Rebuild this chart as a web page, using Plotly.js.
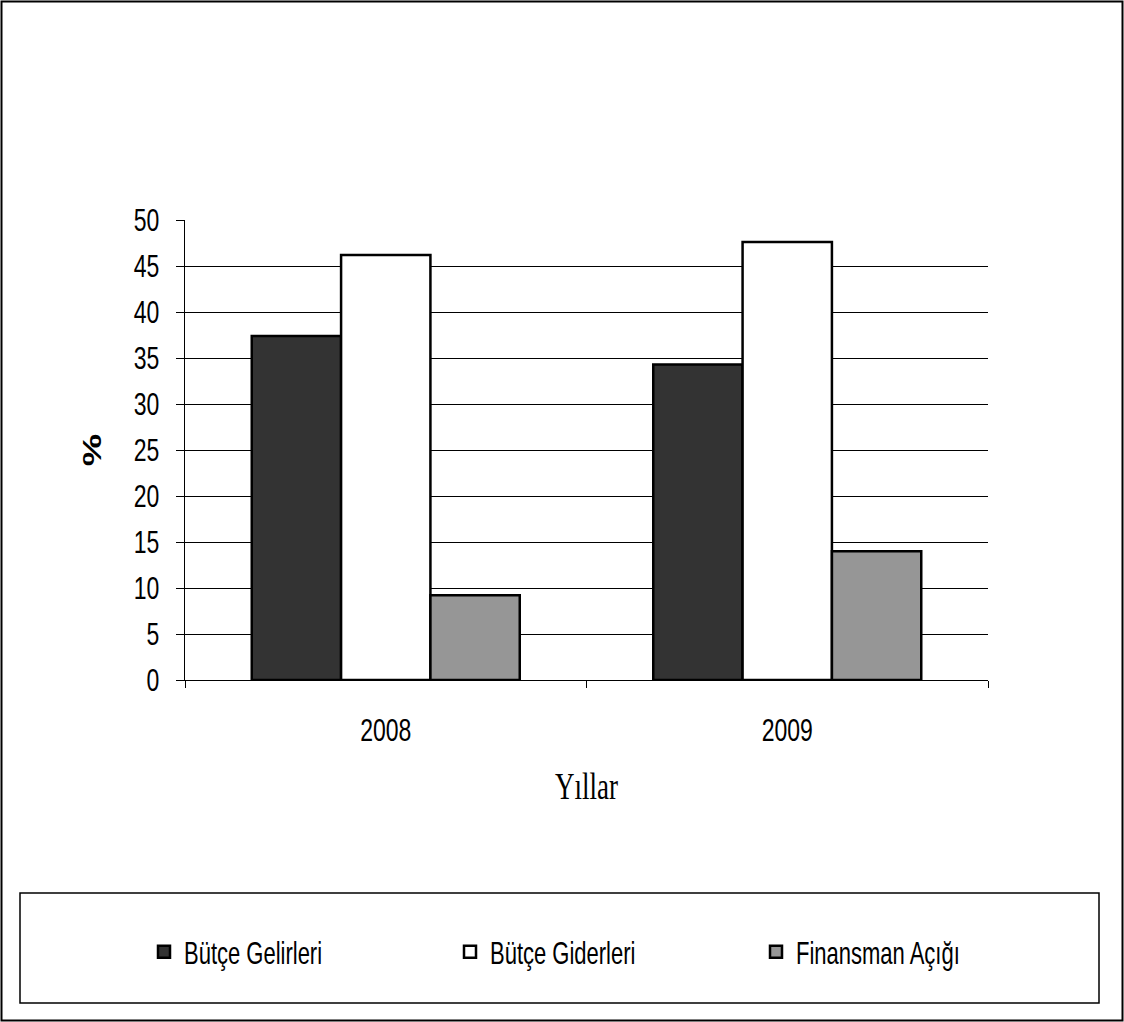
<!DOCTYPE html>
<html><head><meta charset="utf-8">
<script src="https://cdn.plot.ly/plotly-3.0.1.min.js"></script>
<style>html,body{margin:0;padding:0;background:#fff}#c{width:1124px;height:1022px}</style>
</head><body><div id="c"></div>
<script>
const years = ['2008', '2009'];
const gelirler = [37.4, 34.3];
const giderler = [46.2, 47.6];
const acik = [9.2, 14.0];
const seriesNames = ['Bütçe Gelirleri', 'Bütçe Giderleri', 'Finansman Açığı'];
const seriesColors = ['#333333', '#ffffff', '#969696'];
const yTicks = [0, 5, 10, 15, 20, 25, 30, 35, 40, 45, 50];

const SANS = 'Liberation Sans, Arial, sans-serif';
const SERIF = 'Liberation Serif, Times New Roman, serif';

const values = [gelirler, giderler, acik];
const traces = values.map((v, i) => ({
  type: 'bar', x: years, y: v, name: seriesNames[i],
  marker: {color: seriesColors[i], line: {color: '#000', width: 2.5}},
  hoverinfo: 'y'
}));

const W = 1124, H = 1022;
const L = 185, R = 988, T = 220, B = 680;
const pw = R - L, ph = B - T;
const px = x => (x - L) / pw, py = y => (B - y) / ph;

const layout = {
  width: W, height: H,
  margin: {l: L, r: W - R, t: T, b: H - B},
  paper_bgcolor: '#fff', plot_bgcolor: '#fff',
  barmode: 'group', bargap: 0.3325, bargroupgap: 0,
  font: {family: SANS, color: '#000', size: 22},
  showlegend: true,
  legend: {orientation: 'h', xref: 'paper', yref: 'paper',
    x: px(144), xanchor: 'left', y: py(952), yanchor: 'middle',
    entrywidth: 261, entrywidthmode: 'pixels', font: {size: 22, family: SANS},
    bgcolor: 'rgba(0,0,0,0)', traceorder: 'normal', borderwidth: 0},
  xaxis: {type: 'category', showline: true, linecolor: '#000', linewidth: 1,
    ticks: 'outside', tickson: 'boundaries', ticklen: 7, tickcolor: '#000',
    ticklabelstandoff: 29, tickfont: {size: 23, family: SANS},
    title: {text: 'Yıllar', font: {family: SERIF, size: 27}, standoff: 34}},
  yaxis: {range: [0, 50], tickvals: yTicks, showline: true, linecolor: '#000', linewidth: 1,
    ticks: 'outside', ticklen: 8, tickcolor: '#000', showgrid: true, gridcolor: '#000', gridwidth: 1,
    zeroline: false, tickfont: {size: 23, family: SANS}, ticklabelstandoff: 12,
    title: {text: '<b>%</b>', font: {size: 26, family: SANS}, standoff: 24}},
  shapes: [
    {type: 'rect', xref: 'paper', yref: 'paper', x0: px(20), x1: px(1099), y0: py(1003), y1: py(893),
      line: {color: '#000', width: 1.5}, fillcolor: 'rgba(0,0,0,0)'},
    {type: 'rect', xref: 'paper', yref: 'paper', x0: px(1.5), x1: px(1122.5), y0: py(1020.5), y1: py(1.5),
      line: {color: '#000', width: 2}, fillcolor: 'rgba(0,0,0,0)'}
  ]
};

// the reference image is vertically stretched: stretch text glyphs the same way
const SY = 1.4;
Plotly.newPlot('c', traces, layout, {displayModeBar: false, staticPlot: true}).then(gd => {
  gd.querySelectorAll('svg text').forEach(t => {
    if (!t.textContent) return;
    const x = parseFloat(t.getAttribute('x') || 0), y = parseFloat(t.getAttribute('y') || 0);
    const fs = parseFloat(t.style.fontSize) || 22;
    const tr = t.getAttribute('transform') || '';
    const rotated = /rotate/.test(tr);
    const cy = y - 0.36 * fs;
    const s = rotated ? `scale(${SY},1)` : `scale(1,${SY})`;
    t.setAttribute('transform', `${tr} translate(${x},${cy}) ${s} translate(${-x},${-cy})`);
  });
});
</script></body></html>
